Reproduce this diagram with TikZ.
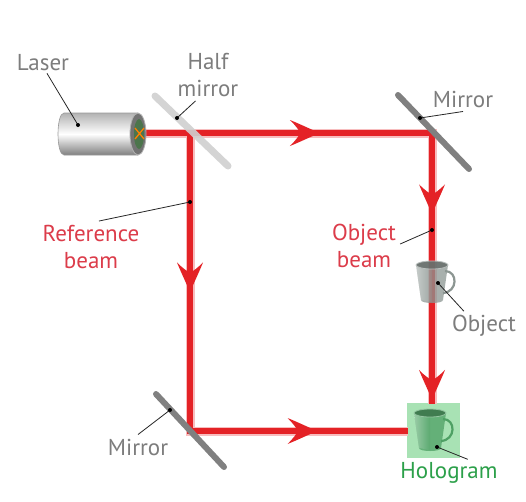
\documentclass[tikz,border=0pt]{standalone}
\usepackage{fontspec}
\setmainfont{PT Sans}
\usetikzlibrary{calc}

\definecolor{beamred}{RGB}{228,34,38}
\definecolor{labelgray}{RGB}{125,125,125}
\definecolor{textred}{RGB}{220,60,74}
\definecolor{textgreen}{RGB}{44,160,74}
\definecolor{mirrorgray}{RGB}{128,128,128}
\definecolor{halfgray}{RGB}{208,208,208}
\definecolor{holobg}{RGB}{168,226,180}
\definecolor{mugobj}{RGB}{140,150,146}
\definecolor{mugholo}{RGB}{78,160,100}

\tikzset{
  beam/.style={draw=beamred, line width=6pt, line join=miter},
  halo/.style={draw=beamred!30, line width=9pt, line join=miter},
  mirror/.style={draw=mirrorgray, line width=6pt, line cap=round},
  halfmirror/.style={draw=halfgray, line width=7pt, line cap=round, opacity=0.9},
  label/.style={font=\fontsize{23}{27}\selectfont, align=center, inner sep=0pt},
  leader/.style={draw=black!85, line width=0.8pt},
  dot/.style={fill=black, circle, inner sep=0pt, minimum size=4pt},
  pics/beamtip/.style={code={
    \fill[beamred] (0,0) .. controls (-10,4) and (-20,9) .. (-30,13)
      .. controls (-24,7) and (-21,3) .. (-20,0)
      .. controls (-21,-3) and (-24,-7) .. (-30,-13)
      .. controls (-20,-9) and (-10,-4) .. (0,0) -- cycle;}},
  pics/mug/.style={code={
    % handle
    \draw[#1, line width=2.2pt] (13,6) .. controls (26,6) and (26,27) .. (11,28);
    % body
    \fill[#1, opacity=0.75] (-16,0) -- (-11,35) .. controls (-11,39) and (11,39) .. (11,35)
      -- (16,0) .. controls (16,-5) and (-16,-5) .. (-16,0) -- cycle;
    \shade[left color=white, right color=#1, opacity=0.35] (-16,0) -- (-11,35) -- (0,37) -- (0,4) -- cycle;
    % rim
    \fill[#1!70!black, opacity=0.8] (0,0) ellipse[x radius=16, y radius=4];
    \draw[#1!60!white, line width=0.8pt] (0,0) ellipse[x radius=16, y radius=4];
  }}
}

\begin{document}
\begin{tikzpicture}[x=1pt, y=-1pt]
  \useasboundingbox[fill=white] (0,0) rectangle (526,501);

  % beam corners
  \coordinate (laser) at (140,133);
  \coordinate (hm) at (190,133);
  \coordinate (m1) at (432,133);
  \coordinate (m2) at (190,431);
  \coordinate (holotop) at (432,404);
  \coordinate (holoin) at (408,431);

  % hologram plate
  \node[fill=holobg, minimum width=53pt, minimum height=55pt, inner sep=0pt] (holo) at (433.5,430.5) {};

  % beams
  \draw[halo] (laser) -- (hm) -- (m1) -- (holotop);
  \draw[halo] (hm) -- (m2) -- (holoin);
  \draw[beam] (laser) -- (hm) -- (m1) -- (holotop);
  \draw[beam] (hm) -- (m2) -- (holoin);

  % arrowheads along the beams
  \pic at ($(hm)!0.537!(m1)$) {beamtip};
  \pic[rotate=-90] at ($(hm)!0.535!(m2)$) {beamtip};
  \pic at ($(m2)!0.585!(holoin)$) {beamtip};
  \pic[rotate=-90] at ($(m1)!0.30!(holotop)$) {beamtip};
  \pic[rotate=-90] at ($(m1)!0.985!(holotop)$) {beamtip};

  % laser head
  \shade[top color=black!30, bottom color=black!50, middle color=white]
    (64,113) -- (138,113) -- (138,155) -- (64,155)
    .. controls (56,155) and (56,113) .. (64,113) -- cycle;
  \draw[black!40, line width=0.6pt]
    (138,113) -- (64,113) .. controls (56,113) and (56,155) .. (64,155) -- (138,155);
  \fill[black!55] (138,134) ellipse[x radius=8, y radius=21];
  \draw[black!30, line width=0.8pt] (138,134) ellipse[x radius=8, y radius=21];
  \fill[black!60!green!40!gray] (139,134) ellipse[x radius=5, y radius=15];
  \draw[orange, line width=1.3pt] (135,128) -- (144,139) (135,139) -- (144,128);

  % mirrors
  \draw[halfmirror] (155,96) -- (228,166);
  \draw[mirror] (398,95) -- (469,169);
  \draw[mirror] (156,394) -- (224,467);

  % object and hologram mugs
  \pic at (432,265) {mug=mugobj};
  \pic at (430,413) {mug=mugholo};

  % dots on the items
  \coordinate (dlaser) at (78,125);
  \coordinate (dhalf) at (177,118);
  \coordinate (dmirror1) at (420,118);
  \coordinate (dref) at (190,202);
  \coordinate (dobjbeam) at (432,230);
  \coordinate (dobj) at (438,283);
  \coordinate (dholo) at (437,447);
  \coordinate (dmirror2) at (170,410);

  % labels
  \node[label, text=labelgray] (tlaser) at (43,63) {Laser};
  \node[label, text=labelgray] (thalf) at (208,75) {Half\\mirror};
  \node[label, text=labelgray] (tmirror1) at (463,99) {Mirror};
  \node[label, text=textred] (tref) at (91,247) {Reference\\beam};
  \node[label, text=textred] (tobjbeam) at (364,246) {Object\\beam};
  \node[label, text=labelgray] (tobj) at (484,326) {Object};
  \node[label, text=textgreen] (tholo) at (449,473) {Hologram};
  \node[label, text=labelgray] (tmirror2) at (138,447) {Mirror};

  % leaders
  \draw[leader] (tlaser.south) ++(4,2) -- (dlaser);
  \draw[leader] (thalf.south west) ++(18,4) -- (dhalf);
  \draw[leader] (tmirror1.south) ++(0,4) -- (dmirror1);
  \draw[leader] (tref.north) ++(8,-4) -- (dref);
  \draw[leader] (tobjbeam.east) ++(4,-2) -- (dobjbeam);
  \draw[leader] (tobj.north west) ++(12,-4) -- (dobj);
  \draw[leader] (tholo.north east) ++(-30,-3) -- (dholo);
  \draw[leader] (tmirror2.north) ++(0,-4) -- (dmirror2);

  \foreach \d in {dlaser,dhalf,dmirror1,dref,dobjbeam,dobj,dholo,dmirror2}
    \node[dot] at (\d) {};
\end{tikzpicture}
\end{document}
